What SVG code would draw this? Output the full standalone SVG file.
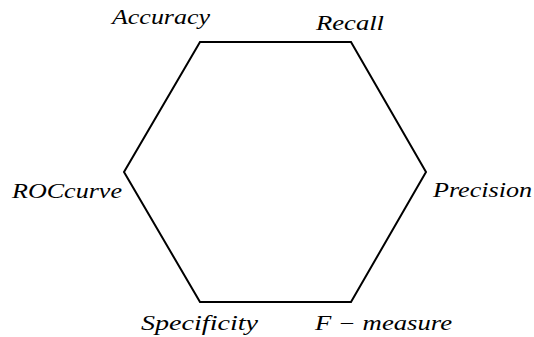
<svg xmlns="http://www.w3.org/2000/svg" width="534" height="337" viewBox="0 0 534 337">
<style>
.edge{fill:none;stroke:#000;stroke-width:2;stroke-linejoin:miter}
</style>
<rect width="534" height="337" fill="#fff"/>
<g id="connectors">
<polygon class="edge" points="200,42 351,42 426,172 351,302 200,302 124,172"/>
</g>
<g font-family="Liberation Serif, DejaVu Serif, serif" font-style="italic" font-size="20" fill="#000">
<g id="accuracy"><text x="112" y="24" textLength="98" lengthAdjust="spacingAndGlyphs">Accuracy</text></g>
<g id="recall"><text x="316" y="30" textLength="68" lengthAdjust="spacingAndGlyphs">Recall</text></g>
<g id="roccurve"><text x="12" y="198" textLength="110" lengthAdjust="spacingAndGlyphs">ROCcurve</text></g>
<g id="precision"><text x="433" y="197" textLength="99" lengthAdjust="spacingAndGlyphs">Precision</text></g>
<g id="specificity"><text x="141" y="330" textLength="117" lengthAdjust="spacingAndGlyphs">Specificity</text></g>
<g id="fmeasure"><text x="315" y="330" textLength="137" lengthAdjust="spacingAndGlyphs">F − measure</text></g>
</g>
</svg>
